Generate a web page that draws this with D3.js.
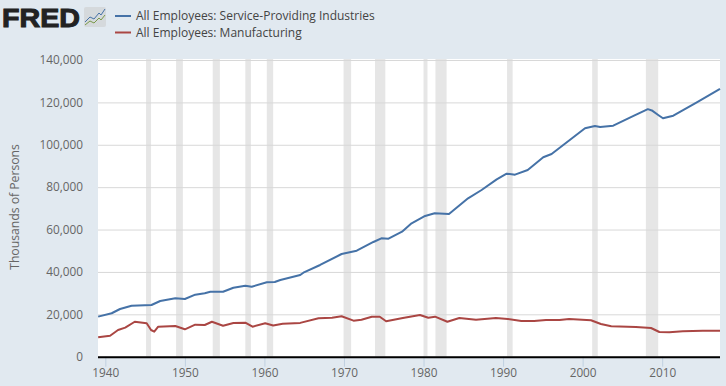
<!DOCTYPE html>
<html>
<head>
<meta charset="utf-8">
<script src="https://cdn.jsdelivr.net/npm/d3@7"></script>
<style>
  html, body { margin: 0; padding: 0; background: #e1e9f0; overflow: hidden; }
  text { font-family: "Open Sans", sans-serif; }
</style>
</head>
<body>
<div id="chart"></div>
<script>
// valores (anio decimal, miles de personas)
const serviceYears = [1939.1, 1940.8, 1941.85, 1943.3, 1945.8, 1946.9, 1948.8, 1950, 1951.3, 1952.5, 1953.2, 1954.8, 1956.1, 1957.6, 1958.4, 1960.3, 1961.3, 1962, 1964.5, 1964.9, 1967, 1969.7, 1971.6, 1973.7, 1974.7, 1975.6, 1977.3, 1978.5, 1980.2, 1981.4, 1983.2, 1985.6, 1987.3, 1989.2, 1990.45, 1991.5, 1993.1, 1995.05, 1996.1, 2000.3, 2001.55, 2002.2, 2003.85, 2006.4, 2008.2, 2008.7, 2009.5, 2010.1, 2011.4, 2014.3, 2017.27];
const serviceValues = [18900, 20500, 22500, 24070, 24400, 26280, 27560, 27230, 29260, 29900, 30670, 30670, 32560, 33500, 33040, 35100, 35250, 36200, 38550, 39640, 43280, 48460, 50040, 54130, 55870, 55700, 59000, 62950, 66400, 67670, 67340, 74750, 78660, 83700, 86360, 85900, 88100, 94100, 95660, 107800, 108870, 108400, 109000, 113600, 116800, 116200, 114060, 112500, 113700, 119900, 126400];

const mfgYears = [1939.1, 1940.6, 1941.6, 1942.5, 1943.7, 1945.2, 1945.75, 1946.15, 1946.65, 1948.8, 1950, 1951.3, 1952.5, 1953.4, 1954.8, 1956.1, 1957.6, 1958.5, 1960.1, 1961.1, 1962.3, 1964.5, 1966.8, 1968.5, 1969.7, 1971.2, 1972.2, 1973.5, 1974.5, 1975.3, 1977.4, 1979.55, 1980.6, 1981.45, 1983, 1984.5, 1986.6, 1989.1, 1990.6, 1992.3, 1993.9, 1995.4, 1997.1, 1998.3, 2001.05, 2002.3, 2003.6, 2006.7, 2008.6, 2009.65, 2010.9, 2012.6, 2015.1, 2017.27];
const mfgValues = [9150, 9900, 12600, 13700, 16500, 15760, 12600, 11800, 14150, 14490, 12930, 15100, 14960, 16500, 14630, 15900, 16050, 14160, 15760, 14700, 15570, 15950, 18100, 18400, 19060, 17000, 17460, 18880, 18880, 16700, 18260, 19680, 18400, 18880, 16500, 18260, 17460, 18260, 17790, 16850, 16850, 17320, 17320, 17790, 17180, 15430, 14350, 14020, 13540, 11660, 11500, 11990, 12270, 12270];

const recessionStart = [1945.12, 1948.9, 1953.5, 1957.6, 1960.3, 1969.95, 1973.9, 1980.0, 1981.5, 1990.5, 2001.2, 2007.95];
const recessionEnd = [1945.75, 1949.75, 1954.4, 1958.3, 1961.1, 1970.9, 1975.2, 1980.5, 1982.9, 1991.2, 2001.9, 2009.5];

const yTicks = [0, 20000, 40000, 60000, 80000, 100000, 120000, 140000];
const xTicks = [1940, 1950, 1960, 1970, 1980, 1990, 2000, 2010];

const seriesNames = ["All Employees: Service-Providing Industries", "All Employees: Manufacturing"];
const seriesColors = ["#4572a7", "#aa4643"];

const width = 726;
const height = 386;
const plot = { left: 98, right: 720, top: 60, bottom: 356.7 };

const svg = d3.select("#chart").append("svg")
  .attr("width", width)
  .attr("height", height)
  .style("display", "block");

svg.append("rect")
  .attr("width", width)
  .attr("height", height)
  .attr("fill", "#e1e9f0");

const x = d3.scaleLinear().domain([1939.08, 2017.27]).range([plot.left, plot.right]);
const y = d3.scaleLinear().domain([0, 140000]).range([plot.bottom, plot.top]);

svg.append("rect")
  .attr("x", plot.left)
  .attr("y", plot.top - 1)
  .attr("width", plot.right - plot.left)
  .attr("height", plot.bottom - plot.top + 1)
  .attr("fill", "#fff");

// bandas de recesion
svg.append("g").selectAll("rect")
  .data(recessionStart)
  .join("rect")
  .attr("x", d => x(d))
  .attr("y", plot.top - 1)
  .attr("width", (d, i) => x(recessionEnd[i]) - x(d))
  .attr("height", plot.bottom - plot.top + 1)
  .attr("fill", "#e6e6e6");

// eje y con lineas de cuadricula
const yAxis = svg.append("g")
  .attr("transform", `translate(${plot.left},0)`)
  .call(d3.axisLeft(y)
    .tickValues(yTicks)
    .tickFormat(d3.format(","))
    .tickSize(-(plot.right - plot.left))
    .tickPadding(15));
yAxis.select(".domain").remove();
yAxis.selectAll("line").attr("stroke", "#d8d8d8");
yAxis.selectAll("text")
  .attr("fill", "#666")
  .style("font-size", "11.8px");

// eje x
const xAxis = svg.append("g")
  .attr("transform", `translate(0,${plot.bottom})`)
  .call(d3.axisBottom(x)
    .tickValues(xTicks)
    .tickFormat(d3.format("d"))
    .tickSize(10)
    .tickPadding(2));
xAxis.select(".domain").remove();
xAxis.selectAll("line").attr("stroke", "#c0d0e0");
xAxis.selectAll("text")
  .attr("fill", "#666")
  .style("font-size", "11.8px");

svg.append("line")
  .attr("x1", plot.left)
  .attr("x2", plot.right)
  .attr("y1", plot.bottom + 0.5)
  .attr("y2", plot.bottom + 0.5)
  .attr("stroke", "#000")
  .attr("stroke-width", 2);

svg.append("text")
  .attr("transform", "translate(19,207) rotate(-90)")
  .attr("text-anchor", "middle")
  .attr("fill", "#666")
  .style("font-size", "12.2px")
  .text("Thousands of Persons");

// lineas
const line = d3.line().x(d => x(d[0])).y(d => y(d[1]));

svg.append("path")
  .datum(d3.zip(serviceYears, serviceValues))
  .attr("d", line)
  .attr("fill", "none")
  .attr("stroke", seriesColors[0])
  .attr("stroke-width", 2)
  .attr("stroke-linejoin", "round");

svg.append("path")
  .datum(d3.zip(mfgYears, mfgValues))
  .attr("d", line)
  .attr("fill", "none")
  .attr("stroke", seriesColors[1])
  .attr("stroke-width", 2)
  .attr("stroke-linejoin", "round");

// leyenda
const legend = svg.append("g").selectAll("g")
  .data(seriesNames)
  .join("g")
  .attr("transform", (d, i) => `translate(115,${16 + i * 16.5})`);

legend.append("line")
  .attr("x1", 0)
  .attr("x2", 16)
  .attr("stroke", (d, i) => seriesColors[i])
  .attr("stroke-width", 2);

legend.append("text")
  .attr("x", 21)
  .attr("y", 4)
  .attr("fill", "#444")
  .style("font-size", "12px")
  .text(d => d);

// logo FRED
svg.append("text")
  .attr("x", 2)
  .attr("y", 26.5)
  .attr("fill", "#222")
  .attr("stroke", "#222")
  .attr("stroke-width", 1)
  .style("font-family", "'Liberation Sans', sans-serif")
  .style("font-weight", "bold")
  .style("font-size", "26px")
  .attr("textLength", 78)
  .attr("lengthAdjust", "spacingAndGlyphs")
  .text("FRED");

const logo = svg.append("g").attr("transform", "translate(84,7)");
logo.append("rect")
  .attr("width", 22)
  .attr("height", 20)
  .attr("rx", 2)
  .attr("fill", "#d5d9dc");
const logoLines = [
  { color: "#4572a7", pts: [[1, 15], [6, 10], [10, 12], [15, 6], [17, 8], [21, 2]] },
  { color: "#7a9a4a", pts: [[1, 18], [6, 14], [10, 16], [15, 11], [17, 13], [21, 8]] }
];
logo.selectAll("path")
  .data(logoLines)
  .join("path")
  .attr("d", d => d3.line()(d.pts))
  .attr("fill", "none")
  .attr("stroke", d => d.color)
  .attr("stroke-width", 1);
</script>
</body>
</html>
